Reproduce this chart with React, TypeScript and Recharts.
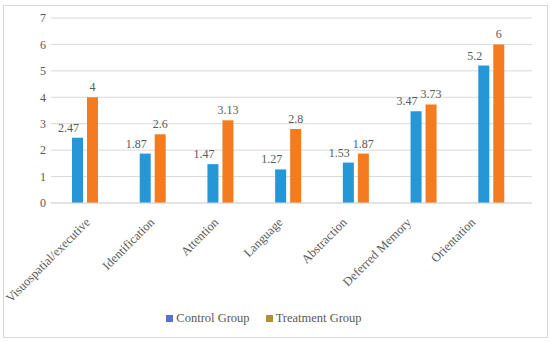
import {
  BarChart,
  Bar,
  XAxis,
  YAxis,
  CartesianGrid,
  Legend,
  LabelList,
} from "recharts";

const categories = [
  "Visuospatial/executive",
  "Identification",
  "Attention",
  "Language",
  "Abstraction",
  "Deferred Memory",
  "Orientation",
];
const controlGroup = [2.47, 1.87, 1.47, 1.27, 1.53, 3.47, 5.2];
const treatmentGroup = [4, 2.6, 3.13, 2.8, 1.87, 3.73, 6];
const yTicks = [0, 1, 2, 3, 4, 5, 6, 7];

const FONT = "Liberation Serif, Times New Roman, serif";
const TEXT = "#595959";
const BLUE = "#2596d6";
const ORANGE = "#f47c20";

const data = categories.map((name, i) => ({
  name,
  control: controlGroup[i],
  treatment: treatmentGroup[i],
}));

// legend swatches look a bit darker than the bars in the original
const legendItems = [
  { label: "Control Group", color: "#5a6fd2" },
  { label: "Treatment Group", color: "#b09428" },
];

function LegendContent() {
  return (
    <div
      style={{
        display: "flex",
        justifyContent: "center",
        gap: 16,
        fontFamily: FONT,
        fontSize: 12.5,
        color: TEXT,
        paddingRight: 4,
      }}
    >
      {legendItems.map((it) => (
        <span key={it.label} style={{ display: "flex", alignItems: "center" }}>
          <span
            style={{
              width: 7,
              height: 7,
              background: it.color,
              marginRight: 3,
              display: "inline-block",
            }}
          />
          {it.label}
        </span>
      ))}
    </div>
  );
}

// category labels in the original drift slightly left of the bar groups
function XTick(props: any) {
  const { x, y, payload, index } = props;
  const tx = x + 6 - 3.5 * index;
  const ty = y + 12;
  return (
    <text
      x={tx}
      y={ty}
      transform={`rotate(-45, ${tx}, ${ty})`}
      textAnchor="end"
      fontFamily={FONT}
      fontSize={12.5}
      fill={TEXT}
    >
      {payload.value}
    </text>
  );
}

// control labels sit a little left of their bar so they don't collide
function ValueLabel(props: any) {
  const { x, y, width, value, dx = 0 } = props;
  return (
    <text
      x={x + width / 2 + dx}
      y={y - 6}
      textAnchor="middle"
      fontFamily={FONT}
      fontSize={12}
      fill={TEXT}
    >
      {value}
    </text>
  );
}

export default function App() {
  return (
    <div
      style={{
        position: "absolute",
        left: 0,
        top: 0,
        width: 550,
        height: 342,
        background: "#fff",
      }}
    >
      <div
        style={{
          position: "absolute",
          left: 3,
          top: 5,
          width: 543,
          height: 331,
          border: "1px solid #d9d9d9",
        }}
      />
      <BarChart
        width={550}
        height={342}
        data={data}
        margin={{ top: 18, right: 18, left: 0, bottom: 11 }}
        barSize={11}
        barGap={4}
      >
        <CartesianGrid vertical={false} stroke="#d9d9d9" />
        <XAxis
          dataKey="name"
          height={108}
          interval={0}
          tickLine={false}
          axisLine={{ stroke: "#d9d9d9" }}
          tick={<XTick />}
          padding={{ left: 0, right: 7 }}
        />
        <YAxis
          width={51}
          domain={[0, 7]}
          ticks={yTicks}
          tickLine={false}
          axisLine={false}
          tickSize={0}
          tickMargin={5}
          tick={{ fontFamily: FONT, fontSize: 12, fill: TEXT }}
        />
        <Legend verticalAlign="bottom" height={20} content={<LegendContent />} />
        <Bar
          dataKey="control"
          name="Control Group"
          fill={BLUE}
          isAnimationActive={false}
        >
          <LabelList
            dataKey="control"
            content={(p: any) => <ValueLabel {...p} dx={-9} />}
          />
        </Bar>
        <Bar
          dataKey="treatment"
          name="Treatment Group"
          fill={ORANGE}
          isAnimationActive={false}
        >
          <LabelList
            dataKey="treatment"
            content={(p: any) => <ValueLabel {...p} />}
          />
        </Bar>
      </BarChart>
    </div>
  );
}
